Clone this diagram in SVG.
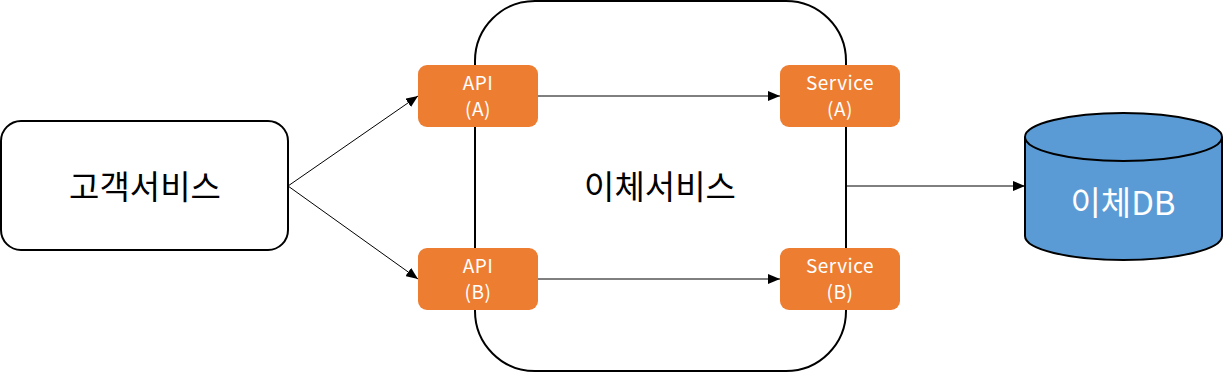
<svg xmlns="http://www.w3.org/2000/svg" width="1223" height="372" viewBox="0 0 1223 372">
<defs>
<marker id="ah" viewBox="0 0 12 10" refX="12" refY="5" markerWidth="12" markerHeight="10" markerUnits="userSpaceOnUse" orient="auto">
<path d="M0,0 L12,5 L0,10 Z" fill="#000"/>
</marker>
<style>
.box{fill:#fff;stroke:#000;stroke-width:2}
.org{fill:#ED7D31}
.lbl{font-family:"Noto Sans CJK KR","Noto Sans",sans-serif;text-anchor:middle}
.big{font-size:33px;fill:#000}
.sm{font-size:19px;fill:#fff;letter-spacing:0.5px}
.conn line{stroke:#000;stroke-width:1;marker-end:url(#ah)}
</style>
</defs>
<g id="transfer-service">
<rect class="box" x="475" y="1" width="371" height="370" rx="60"/>
<text class="lbl big" x="660" y="199">이체서비스</text>
</g>
<g id="customer-service">
<rect class="box" x="1" y="121" width="287" height="129" rx="20"/>
<text class="lbl big" x="145" y="199">고객서비스</text>
</g>
<g id="api-a">
<rect class="org" x="418" y="65" width="120" height="62" rx="9"/>
<text class="lbl sm" x="478" y="90">API</text>
<text class="lbl sm" x="478" y="116">(A)</text>
</g>
<g id="api-b">
<rect class="org" x="418" y="248" width="120" height="62" rx="9"/>
<text class="lbl sm" x="478" y="273">API</text>
<text class="lbl sm" x="478" y="299">(B)</text>
</g>
<g id="service-a">
<rect class="org" x="780" y="65" width="120" height="62" rx="9"/>
<text class="lbl sm" x="840" y="90">Service</text>
<text class="lbl sm" x="840" y="116">(A)</text>
</g>
<g id="service-b">
<rect class="org" x="780" y="248" width="120" height="62" rx="9"/>
<text class="lbl sm" x="840" y="273">Service</text>
<text class="lbl sm" x="840" y="299">(B)</text>
</g>
<g id="transfer-db">
<path d="M1025,137 L1025,236 A98.5,24 0 0 0 1222,236 L1222,137 A98.5,24 0 0 0 1025,137 Z" fill="#5B9BD5" stroke="#000" stroke-width="2"/>
<path d="M1025,137 A98.5,24 0 0 0 1222,137" fill="none" stroke="#000" stroke-width="2"/>
<text class="lbl" x="1123" y="215" style="font-size:33px;fill:#fff">이체DB</text>
</g>
<g class="conn" id="connectors">
<line x1="288" y1="186" x2="418" y2="96"/>
<line x1="288" y1="186" x2="418" y2="279"/>
<line x1="538" y1="96" x2="780" y2="96"/>
<line x1="538" y1="279" x2="780" y2="279"/>
<line x1="846" y1="186" x2="1025" y2="186"/>
</g>
</svg>
